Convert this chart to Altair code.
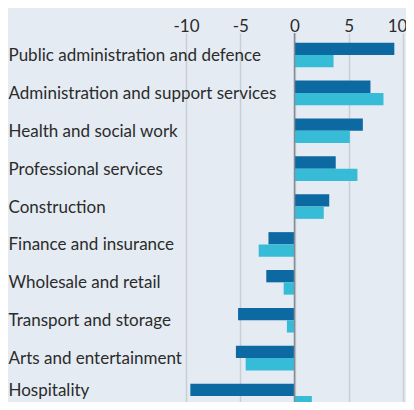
import altair as alt
import pandas as pd

sectors = [
    "Public administration and defence",
    "Administration and support services",
    "Health and social work",
    "Professional services",
    "Construction",
    "Finance and insurance",
    "Wholesale and retail",
    "Transport and storage",
    "Arts and entertainment",
    "Hospitality",
]
dark_values = [9.2, 7.0, 6.3, 3.8, 3.2, -2.4, -2.6, -5.2, -5.4, -9.6]
light_values = [3.6, 8.2, 5.1, 5.8, 2.7, -3.3, -1.0, -0.7, -4.5, 1.6]
series_names = ["Series A", "Series B"]
series_colors = ["#0c69a2", "#37bcd7"]
x_ticks = [-10, -5, 0, 5, 10]

rows = []
for s, a, b in zip(sectors, dark_values, light_values):
    rows.append({"sector": s, "series": series_names[0], "value": a})
    rows.append({"sector": s, "series": series_names[1], "value": b})
df = pd.DataFrame(rows)

FONT = "Lato"

y_enc = alt.Y(
    "sector:N",
    sort=sectors,
    scale=alt.Scale(paddingInner=0.35, paddingOuter=0.256, range=[0, 385]),
    axis=alt.Axis(
        title=None,
        labelAlign="left",
        labelPadding=178,
        ticks=False,
        domain=False,
        grid=False,
        labelFont=FONT,
        labelFontSize=17,
        labelColor="#2b2b2b",
        labelLimit=400,
        labelOffset={"condition": {"test": "datum.value == 'Hospitality'", "value": -5}, "value": 1},
    ),
)

x_enc = alt.X(
    "value:Q",
    scale=alt.Scale(domain=[-10, 10], nice=False),
    axis=alt.Axis(
        orient="top",
        title=None,
        values=x_ticks,
        labelExpr="toString(datum.value)",
        grid=True,
        gridColor="#c9ced5",
        gridWidth=1.5,
        domain=False,
        ticks=False,
        labelPadding=-2,
        labelFont=FONT,
        labelFontSize=17,
        labelColor="#2b2b2b",
        labelFlush=False,
        labelOffset={"condition": {"test": "datum.value == 10", "value": -6}, "value": 0},
    ),
)

bars = alt.Chart(df).mark_bar().encode(
    x=x_enc,
    y=y_enc,
    yOffset=alt.YOffset("series:N", sort=series_names,
                        scale=alt.Scale(paddingInner=0, paddingOuter=0)),
    color=alt.Color("series:N", sort=series_names,
                    scale=alt.Scale(domain=series_names, range=series_colors),
                    legend=None),
)

zero = alt.Chart(pd.DataFrame({"value": [0]})).mark_rule(
    color="#858b93", strokeWidth=1.5
).encode(x=alt.X("value:Q", scale=alt.Scale(domain=[-10, 10], nice=False)))

chart = alt.layer(bars, zero).properties(
    width=217,
    height=369,
    background="#e4ebf3",
    padding={"left": 178, "top": 25, "right": 3, "bottom": 0},
    autosize=alt.AutoSizeParams(type="none"),
).configure_view(stroke=None)

chart.save("out.html", embed_options={"renderer": "svg", "actions": False})
